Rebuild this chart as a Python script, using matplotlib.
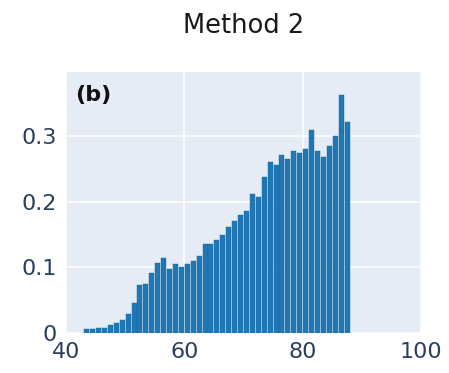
import matplotlib
matplotlib.use("Agg")
import matplotlib.pyplot as plt
import numpy as np

bin_left = list(range(43, 88))
heights = [0.007, 0.007, 0.008, 0.008, 0.013, 0.015, 0.020, 0.030, 0.046, 0.073,
           0.075, 0.092, 0.106, 0.115, 0.098, 0.105, 0.100, 0.105, 0.110, 0.117,
           0.135, 0.135, 0.142, 0.149, 0.162, 0.170, 0.179, 0.185, 0.211, 0.207,
           0.237, 0.260, 0.255, 0.271, 0.264, 0.277, 0.273, 0.280, 0.308, 0.277,
           0.268, 0.284, 0.300, 0.361, 0.320]
x_ticks = [40, 60, 80, 100]
y_ticks = [0, 0.1, 0.2, 0.3]
y_tick_labels = ["0", "0.1", "0.2", "0.3"]
title = "Method 2"
panel = "(b)"

fig = plt.figure(figsize=(4.49, 3.73), dpi=100)
ax = fig.add_axes([66/449, 1-333.3/373, (421-66)/449, (333.3-71.7)/373])
ax.set_facecolor("#E5ECF6")
ax.bar(np.array(bin_left) + 0.5, heights, width=0.84, color="#1f77b4",
       edgecolor="#1a6aa3", linewidth=0.3, zorder=3)
ax.set_xlim(40, 100)
ax.set_ylim(0, 0.397)
ax.set_xticks(x_ticks)
ax.set_yticks(y_ticks)
ax.set_yticklabels(y_tick_labels)
ax.grid(True, color="white", linewidth=1.1, zorder=0)
ax.set_axisbelow(True)
for s in ax.spines.values():
    s.set_visible(False)
ax.tick_params(length=0, labelsize=16, labelcolor="#2a3f5f")
ax.tick_params(axis="y", pad=6.5)
ax.tick_params(axis="x", pad=6.5)
ax.text(0.025, 0.95, panel, transform=ax.transAxes, fontsize=16,
        fontweight="bold", va="top", ha="left", color="#111111", zorder=5)
fig.text(0.5424, 1-33.3/373, title, ha="center", va="baseline",
         fontsize=18.5, color="#1a1a1a")
fig.savefig("out.png", dpi=100, facecolor="white")
